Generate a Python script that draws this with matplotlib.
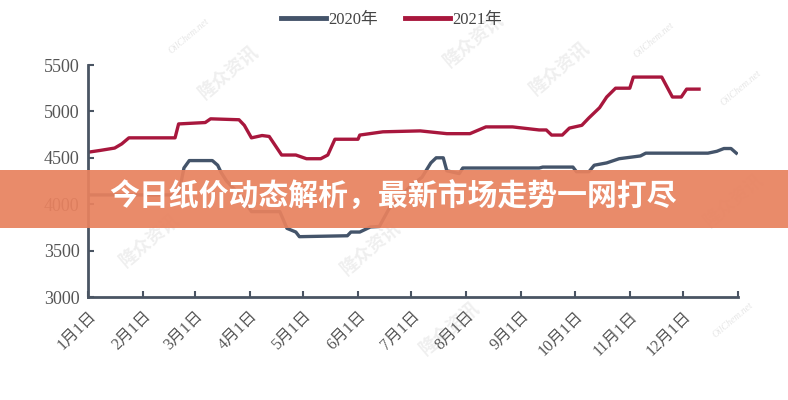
import pandas as pd
import matplotlib.pyplot as plt
from matplotlib.patches import Rectangle

plt.rcParams['font.family'] = ['Liberation Serif', 'Noto Sans CJK SC']

# 2020 series (date in year, price)
dates_2020 = ['01-01', '02-21', '02-24', '02-27', '03-11', '03-14', '03-16', '03-19',
              '03-28', '04-02', '04-18', '04-22', '04-27', '04-29', '05-26', '05-28',
              '06-02', '06-08', '06-13', '06-19', '06-25', '06-30', '07-07', '07-12',
              '07-15', '07-19', '07-21', '07-28', '07-30', '09-11', '09-13', '09-30',
              '10-02', '10-09', '10-12', '10-19', '10-26', '11-07', '11-10', '12-15',
              '12-20', '12-24', '12-28', '12-31']
vals_2020 = [4100, 4100, 4390, 4470, 4470, 4420, 4340, 4250,
             4070, 3920, 3920, 3740, 3700, 3650, 3660, 3700,
             3700, 3755, 3760, 3970, 4080, 4185, 4290, 4445,
             4500, 4500, 4360, 4330, 4390, 4390, 4400, 4400,
             4350, 4350, 4420, 4445, 4490, 4520, 4550, 4550,
             4570, 4600, 4600, 4550]

# 2021 series
dates_2021 = ['01-01', '01-08', '01-16', '01-20', '01-24', '02-19', '02-21', '03-07',
              '03-10', '03-26', '03-29', '04-02', '04-08', '04-12', '04-19', '04-27',
              '05-03', '05-11', '05-15', '05-19', '06-01', '06-02', '06-15', '07-06',
              '07-21', '08-03', '08-12', '08-27', '09-11', '09-15', '09-18', '09-24',
              '09-28', '10-05', '10-09', '10-15', '10-19', '10-24', '11-01', '11-03',
              '11-19', '11-25', '11-30', '12-03', '12-10']
vals_2021 = [4560, 4580, 4605, 4650, 4715, 4715, 4865, 4880,
             4920, 4910, 4850, 4715, 4740, 4730, 4530, 4530,
             4490, 4490, 4530, 4700, 4700, 4745, 4780, 4790,
             4760, 4760, 4833, 4833, 4800, 4800, 4745, 4745,
             4820, 4850, 4930, 5040, 5155, 5250, 5250, 5370,
             5370, 5155, 5155, 5240, 5240]

month_labels = ['1月1日', '2月1日', '3月1日', '4月1日', '5月1日', '6月1日',
                '7月1日', '8月1日', '9月1日', '10月1日', '11月1日', '12月1日', '']
yticks = [3000, 3500, 4000, 4500, 5000, 5500]

axis_color = '#4a5563'
label_color = '#555555'


def to_dates(ds):
    return pd.to_datetime(['2020-' + d for d in ds])


fig = plt.figure(figsize=(7.88, 4.0), dpi=100)
ax = fig.add_axes([0.1117, 0.2575, 0.825, 0.58])

ax.plot(to_dates(dates_2020), vals_2020, color='#44546a', lw=2.4, label='2020年')
ax.plot(to_dates(dates_2021), vals_2021, color='#a8173d', lw=2.4, label='2021年')

ax.set_ylim(3000, 5500)
ax.set_xlim(pd.Timestamp('2020-01-01'), pd.Timestamp('2021-01-01'))
ax.set_yticks(yticks)
ax.set_yticklabels([str(v) for v in yticks], fontsize=13, color=label_color)

ticks = pd.date_range('2020-01-01', '2021-01-01', freq='MS')
ax.set_xticks(ticks)
ax.set_xticklabels(month_labels, rotation=45, ha='right', rotation_mode='anchor',
                   fontsize=11.5, color=label_color)

for s in ['top', 'right']:
    ax.spines[s].set_visible(False)
for s in ['left', 'bottom']:
    ax.spines[s].set_color(axis_color)
    ax.spines[s].set_linewidth(2)
ax.tick_params(direction='in', length=4, width=1.5, color=axis_color, pad=6)
ax.tick_params(axis='x', pad=8)

leg = fig.legend(loc='center', bbox_to_anchor=(0.497, 0.95), ncol=2, frameon=False,
                 handlelength=2.7, handletextpad=0.15, columnspacing=1.6,
                 prop={'size': 12}, labelcolor='#444444')
for line in leg.get_lines():
    line.set_linewidth(3.5)

# faint watermarks
for (wx, wy) in [(0.60, 0.90), (0.29, 0.82), (0.71, 0.83), (0.57, 0.18), (0.93, 0.5),
                 (0.19, 0.4), (0.47, 0.38)]:
    fig.text(wx, wy, '隆众资讯', rotation=40, fontsize=13, color='#999999',
             alpha=0.16, ha='center', va='center', family='Noto Sans CJK SC',
             weight='bold')
for (wx, wy) in [(0.24, 0.91), (0.83, 0.90), (0.94, 0.78), (0.93, 0.2)]:
    fig.text(wx, wy, 'OilChem.net', rotation=40, fontsize=7, color='#999999',
             alpha=0.25, ha='center', va='center', style='italic')

# headline banner over the chart
fig.add_artist(Rectangle((0, 0.43), 1, 0.145, transform=fig.transFigure,
                         facecolor='#e8825f', edgecolor='none', alpha=0.93, zorder=5))
fig.text(0.4994, 0.507, '今日纸价动态解析，最新市场走势一网打尽', color='white',
         fontsize=21.5, weight='black', ha='center', va='center',
         family='Noto Sans CJK SC', zorder=6)

fig.savefig('out.png', dpi=100)
